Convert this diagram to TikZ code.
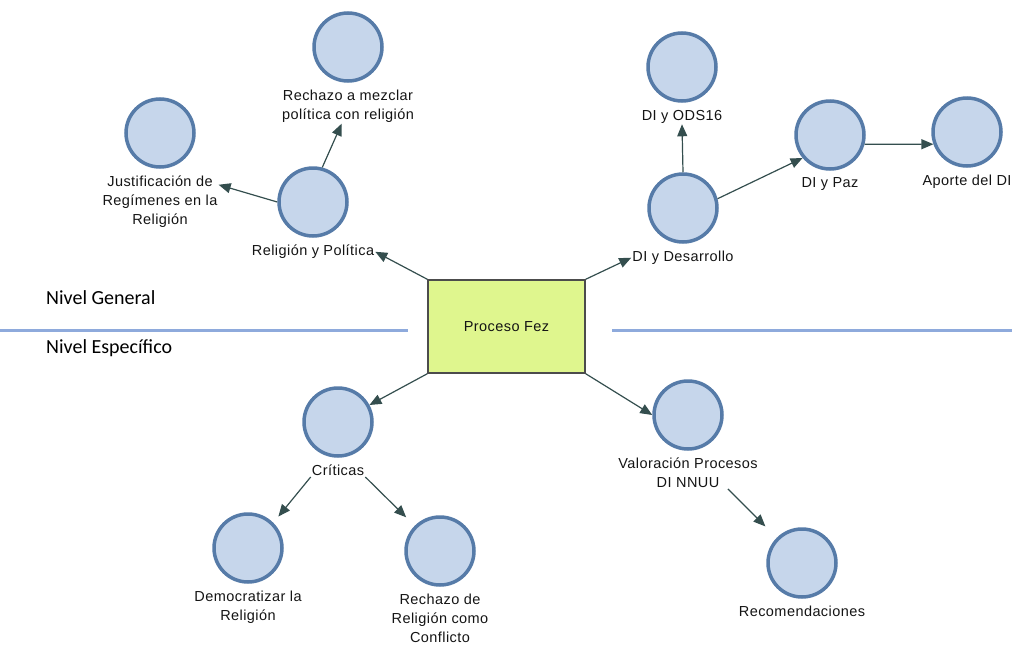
\documentclass[tikz,border=0pt]{standalone}
\usepackage{fontspec}
\usetikzlibrary{arrows.meta}
\newfontfamily\tagfont[LetterSpace=3]{Liberation Sans}
\newfontfamily\levelfont{Carlito}
\definecolor{topicfill}{RGB}{198,214,235}
\definecolor{topicedge}{RGB}{86,123,168}
\definecolor{linkcol}{RGB}{52,78,78}
\definecolor{procfill}{RGB}{223,246,142}
\definecolor{levelline}{RGB}{142,170,220}

\begin{document}
\begin{tikzpicture}[x=1pt, y=-1pt,
    topic/.style={circle, draw=topicedge, fill=topicfill, line width=3.5pt, minimum size=68pt, inner sep=0pt},
    tag/.style={font=\tagfont\fontsize{14.5}{19}\selectfont, text=black!92, align=center, inner sep=1pt},
    every label/.style={tag}, label distance=6pt,
    procbox/.style={rectangle, draw=black!70, fill=procfill, line width=1.5pt, minimum width=157pt, minimum height=93pt, tag},
    level/.style={font=\levelfont\fontsize{20}{24}\selectfont, anchor=west, inner sep=0pt},
    link/.style={draw=linkcol, line width=1.2pt, -{Triangle[length=12pt,width=10pt]}}]
    \useasboundingbox (0,0) rectangle (1015,648);
    % Draw level separators
    \draw[levelline, line width=3pt] (0,330) -- (408,330);
    \draw[levelline, line width=3pt] (612,330) -- (1012,330);
    \node[level] (general) at (46,298) {Nivel General};
    \node[level] (especifico) at (46,348) {Nivel Específico};
    % Draw the center box
    \node[procbox] (proceso) at (506.5,326.5) {Proceso Fez};
    % Draw the general level topics
    \node[topic, label={[name=relpolt]below:Religión y Política}] (relpol) at (313,202) {};
    \node[topic, label={[name=rechazot]below:Rechazo a mezclar\\política con religión}] (rechazo) at (348,47) {};
    \node[topic, label={[name=justift]below:Justificación de\\Regímenes en la\\Religión}] (justif) at (160,133) {};
    \node[topic, label={[name=desarrollot]below:DI y Desarrollo}] (desarrollo) at (683,208) {};
    \node[topic, label={[name=odst]below:DI y ODS16}] (ods) at (682,67) {};
    \node[topic, label={[name=pazt]below:DI y Paz}] (paz) at (830,135) {};
    \node[topic, label={[name=aportet]below:Aporte del DI}] (aporte) at (967,132) {};
    % Draw the specific level topics
    \node[topic, label={[name=criticast]below:Críticas}] (criticas) at (338,422) {};
    \node[topic, label={[name=democt]below:Democratizar la\\Religión}] (democ) at (248,548) {};
    \node[topic, label={[name=conflt]below:Rechazo de\\Religión como\\Conflicto}] (confl) at (440,551) {};
    \node[topic, label={[name=valort]below:Valoración Procesos\\DI NNUU}] (valor) at (688,415) {};
    \node[topic, label={[name=recomt]below:Recomendaciones}] (recom) at (802,563) {};
    % Draw the links
    \draw[link] (proceso.north west) -- (relpolt.east);
    \draw[link] (proceso.north east) -- (desarrollot.west);
    \draw[link] (proceso.south west) -- (criticas);
    \draw[link] (proceso.south east) -- (valor.west);
    \draw[link] (relpol.west) -- ([yshift=-10pt]justift.north east);
    \draw[link] (relpol.75) -- (rechazot.250);
    \draw[link] (desarrollo.north) -- (odst.south);
    \draw[link] (desarrollo.15) -- (paz.220);
    \draw[link] (paz.-15) -- (aporte.200);
    \draw[link, shorten >=8pt] (criticast.south west) -- (democ.north east);
    \draw[link, shorten >=12pt] (criticast.south east) -- (confl.north west);
    \draw[link, shorten >=16pt] (valort.-22) -- (recom.north west);
\end{tikzpicture}
\end{document}
